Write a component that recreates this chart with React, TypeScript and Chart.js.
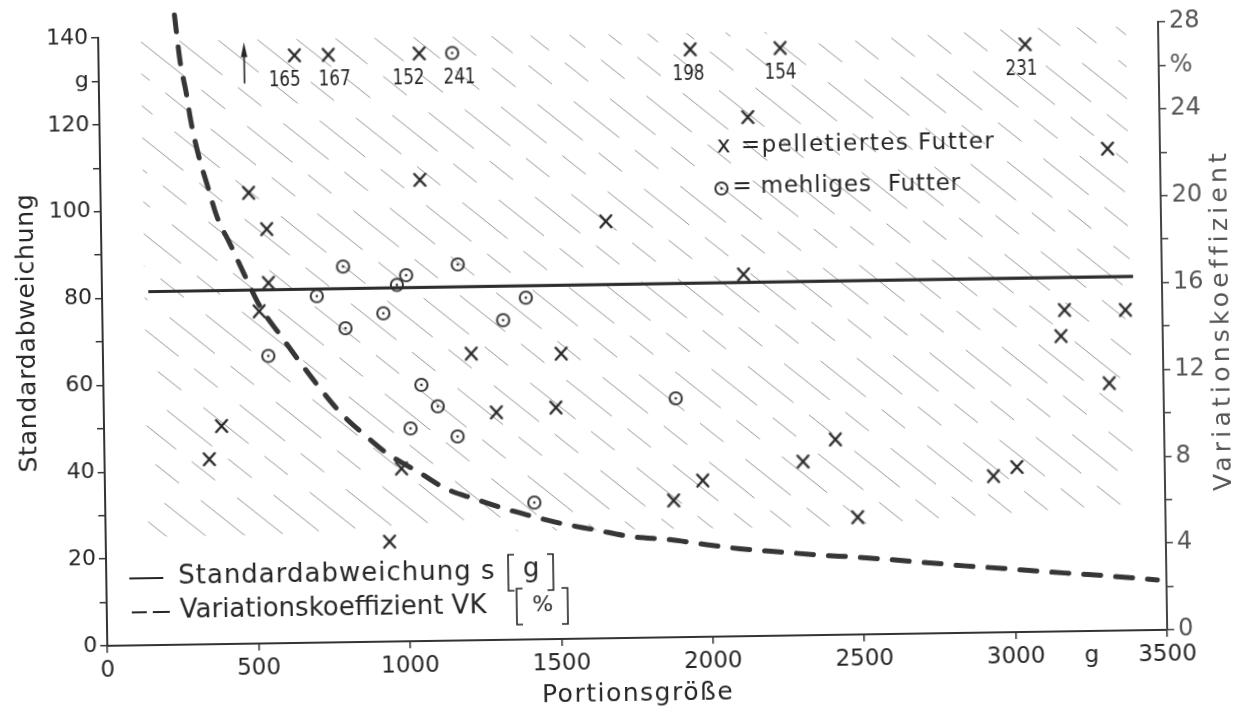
import React, { useEffect, useRef } from 'react';
import { Chart, registerables } from 'chart.js';

Chart.register(...registerables);

// ---------------- data ----------------
// pelletiertes Futter (x): Portionsgröße [g], Standardabweichung s [g]
const pelletX = [346, 388, 489, 518, 547, 550, 937, 980, 1055, 1216, 1296, 1493, 1513, 1667, 1877, 1974, 2119, 2141, 2306, 2414, 2484, 2934, 3012, 3164, 3177, 3321, 3327, 3378];
const pelletS = [42.6, 50.2, 103.8, 76.5, 95.4, 83, 23, 39.8, 106.2, 66, 52.4, 53.3, 65.7, 96, 31.5, 36, 83.3, 119.5, 40, 45, 27, 36, 38, 68, 74, 57, 111, 73.8];

// mehliges Futter (⊙)
const mealX = [546, 709, 797, 802, 928, 974, 1005, 1012, 1050, 1103, 1167, 1176, 1323, 1399, 1417, 1889];
const mealS = [66.2, 79.8, 86.5, 72.3, 75.6, 82.1, 84.3, 49, 59, 54, 47, 86.6, 73.6, 78.7, 31.5, 55];

// points beyond the scale (their s value is printed as a number)
const offPelletX = [647, 759, 1059, 1954, 2251, 3060];
const offPelletS = [165, 167, 152, 198, 154, 231];
const offMealX = [1168];
const offMealS = [241];

// Standardabweichung s [g] line
const sdX = [153, 3405];
const sdS = [81.4, 81.5];

// Variationskoeffizient VK [%]
const vkX = [253, 270, 287, 302, 326, 354, 383, 426, 471, 522, 586, 657, 721, 786, 867, 933, 1046, 1126, 1222, 1316, 1397, 1504, 1617, 1737, 1863, 1956, 2093, 2223, 2351, 2478, 2593, 2719, 2839, 2965, 3085, 3206, 3326, 3470];
const vkP = [29.0, 26.8, 25.5, 24.1, 22.5, 21.1, 19.7, 18.4, 17.0, 15.5, 14.2, 12.8, 11.6, 10.5, 9.45, 8.67, 7.7, 7.0, 6.5, 6.05, 5.72, 5.32, 5.0, 4.66, 4.5, 4.3, 4.03, 3.86, 3.69, 3.56, 3.42, 3.25, 3.08, 2.94, 2.78, 2.64, 2.5, 2.3];

// ticks
const xTickValues = [0, 500, 1000, 1500, 2000, 2500, 3000, 3250, 3500];
const xTickLabels = ['0', '500', '1000', '1500', '2000', '2500', '3000', 'g', '3500'];
const leftTickValues = [0, 10, 20, 30, 40, 50, 60, 70, 80, 90, 100, 110, 120, 130, 140];
const leftTickLabels = ['0', '', '20', '', '40', '', '60', '', '80', '', '100', '', '120', 'g', '140'];
const rightTickValues = [0, 2, 4, 6, 8, 10, 12, 14, 16, 18, 20, 22, 24, 26, 28];
const rightTickLabels = ['0', '', '4', '', '8', '', '12', '', '16', '', '20', '', '24', '%', '28'];

// decorations (data units)
const OFF_SCALE_Y = 135.3;
const ARROW_X = 481;
const ARROW_Y = [129, 138.5];
const HATCH_X = [140, 3395];
const HATCH_Y = [25, 139];

// ---------------- styling ----------------
const FONT = '"DejaVu Sans", "Liberation Sans", Arial, sans-serif';
const INK = '#262626';
const GREY = '#555555';
const offPelletLabelShift = [-10, 6, -11, -2, 0, -4];
const offMealLabelShift = [7];

function txt(ctx: any, s: string, x: number, y: number, size: number, o: any = {}) {
  ctx.save();
  ctx.font = `${o.weight || 'normal'} ${size}px ${FONT}`;
  try { ctx.letterSpacing = (o.spacing || 0) + 'px'; } catch (e) { /* ignore */ }
  ctx.fillStyle = o.color || INK;
  ctx.textAlign = o.align || 'left';
  ctx.textBaseline = 'middle';
  ctx.translate(x, y);
  if (o.rotate) ctx.rotate(o.rotate);
  if (o.maxWidth) ctx.fillText(s, 0, 0, o.maxWidth);
  else ctx.fillText(s, 0, 0);
  try { ctx.letterSpacing = '0px'; } catch (e) { /* ignore */ }
  ctx.restore();
}

function bracket(ctx: any, x: number, y: number, h: number, dir: number) {
  ctx.beginPath();
  ctx.moveTo(x + dir * 6, y - h / 2);
  ctx.lineTo(x, y - h / 2);
  ctx.lineTo(x, y + h / 2);
  ctx.lineTo(x + dir * 6, y + h / 2);
  ctx.stroke();
}

function makeX() {
  const c = document.createElement('canvas');
  c.width = 18; c.height = 18;
  const g = c.getContext('2d')!;
  g.strokeStyle = '#262626';
  g.lineWidth = 2.3;
  g.lineCap = 'round';
  g.beginPath();
  g.moveTo(3.5, 3); g.lineTo(14.5, 15);
  g.moveTo(14.5, 3); g.lineTo(3.5, 15);
  g.stroke();
  return c;
}

function makeO() {
  const c = document.createElement('canvas');
  c.width = 18; c.height = 18;
  const g = c.getContext('2d')!;
  g.strokeStyle = '#2a2a2a';
  g.lineWidth = 1.9;
  g.beginPath(); g.arc(9, 9, 6.1, 0, Math.PI * 2); g.stroke();
  g.fillStyle = '#2a2a2a';
  g.beginPath(); g.arc(9, 9, 1.3, 0, Math.PI * 2); g.fill();
  return c;
}

const hatchPlugin = {
  id: 'hatch',
  beforeDatasetsDraw(chart: any) {
    const { ctx, scales } = chart;
    const xs = scales.x, ys = scales.y;
    const left = xs.getPixelForValue(HATCH_X[0]);
    const right = xs.getPixelForValue(HATCH_X[1]);
    const top = ys.getPixelForValue(HATCH_Y[1]);
    const bottom = ys.getPixelForValue(HATCH_Y[0]);
    ctx.save();
    ctx.beginPath();
    ctx.rect(left, top, right - left, bottom - top);
    ctx.clip();
    ctx.strokeStyle = 'rgba(45,45,45,0.5)';
    ctx.lineWidth = 1;
    const slope = 0.82, gap = 32;
    const w = right - left, h = bottom - top;
    const n0 = Math.floor(-(w * slope) / gap) - 1;
    const n1 = Math.ceil(h / gap) + 1;
    for (let k = n0; k <= n1; k++) {
      ctx.setLineDash([58, 20, 30, 28]);
      ctx.lineDashOffset = ((k * 47) % 136 + 136) % 136;
      const y0 = top + k * gap;
      ctx.beginPath();
      ctx.moveTo(left, y0);
      ctx.lineTo(right, y0 + slope * w);
      ctx.stroke();
    }
    ctx.restore();
  },
};

const annotationPlugin = {
  id: 'annotations',
  afterDraw(chart: any) {
    const { ctx, chartArea: ca, scales } = chart;
    const xs = scales.x, ys = scales.y;

    // numbers under the off-scale markers
    chart.data.datasets.forEach((ds: any, i: number) => {
      if (!ds.offValues) return;
      const meta = chart.getDatasetMeta(i);
      meta.data.forEach((pt: any, j: number) => {
        const dx = ds.labelShift ? ds.labelShift[j] : 0;
        txt(ctx, String(ds.offValues[j]), pt.x + dx, pt.y + 25, 21, { align: 'center', maxWidth: 32 });
      });
    });

    // upward arrow
    const ax = xs.getPixelForValue(ARROW_X);
    const ayB = ys.getPixelForValue(ARROW_Y[0]);
    const ayT = ys.getPixelForValue(ARROW_Y[1]);
    ctx.save();
    ctx.strokeStyle = INK; ctx.fillStyle = INK; ctx.lineWidth = 1.6;
    ctx.beginPath(); ctx.moveTo(ax, ayB); ctx.lineTo(ax, ayT + 10); ctx.stroke();
    ctx.beginPath(); ctx.moveTo(ax, ayT); ctx.lineTo(ax - 3.2, ayT + 15); ctx.lineTo(ax + 3.2, ayT + 15); ctx.closePath(); ctx.fill();
    ctx.restore();

    // symbol legend (top right)
    const lx = ca.left + 617;
    txt(ctx, 'x =pelletiertes Futter', lx, ca.top + 118, 23, { spacing: 1.5 });
    const oImg = chart.data.datasets[3].pointStyle;
    ctx.drawImage(oImg, lx + 4 - 9, ca.top + 160 - 9);
    txt(ctx, '= mehliges  Futter', lx + 15, ca.top + 159, 23, { spacing: 0.8 });

    // line legend (bottom left)
    const r1 = ca.bottom - 68, r2 = ca.bottom - 34;
    ctx.save();
    ctx.strokeStyle = INK; ctx.lineWidth = 2;
    ctx.beginPath(); ctx.moveTo(ca.left + 23, r1 + 1); ctx.lineTo(ca.left + 57, r1 + 1); ctx.stroke();
    ctx.beginPath(); ctx.moveTo(ca.left + 25, r2 + 1); ctx.lineTo(ca.left + 40, r2 + 1);
    ctx.moveTo(ca.left + 46, r2 + 1); ctx.lineTo(ca.left + 63, r2 + 1); ctx.stroke();
    ctx.lineWidth = 1.6;
    bracket(ctx, ca.left + 402, r1 + 1, 36, 1);
    bracket(ctx, ca.left + 447, r1 + 1, 36, -1);
    bracket(ctx, ca.left + 410, r2 + 1, 36, 1);
    bracket(ctx, ca.left + 461, r2 + 1, 36, -1);
    ctx.restore();
    txt(ctx, 'Standardabweichung s', ca.left + 72, r1, 26, { spacing: 1.0 });
    txt(ctx, 'g', ca.left + 425, r1 - 2, 26, { align: 'center' });
    txt(ctx, 'Variationskoeffizient VK', ca.left + 73, r2, 26, { spacing: 0 });
    txt(ctx, '%', ca.left + 436, r2, 22, { align: 'center' });

    // axis titles
    txt(ctx, 'Standardabweichung', 28.5, 324, 25, { align: 'center', rotate: -Math.PI / 2, spacing: 0.8 });
    txt(ctx, 'Variationskoeffizient', 1222.5, 329, 25, { align: 'center', rotate: -Math.PI / 2, spacing: 4.2, color: GREY });
    txt(ctx, 'Portionsgröße', (ca.left + ca.right) / 2, 694, 25, { align: 'center', spacing: 1.5 });
  },
};

export default function App() {
  const ref = useRef<HTMLCanvasElement | null>(null);

  useEffect(() => {
    document.body.style.margin = '0';
    document.body.style.background = '#ffffff';
    const canvas = ref.current;
    if (!canvas) return;
    const xMark = makeX();
    const oMark = makeO();

    const chart = new Chart(canvas, {
      type: 'scatter',
      data: {
        datasets: [
          {
            label: 'Standardabweichung s [g]',
            data: sdX.map((x, i) => ({ x, y: sdS[i] })),
            showLine: true,
            borderColor: '#2c2c2c',
            borderWidth: 3.2,
            pointRadius: 0,
            yAxisID: 'y',
          },
          {
            label: 'Variationskoeffizient VK [%]',
            data: vkX.map((x, i) => ({ x, y: vkP[i] })),
            showLine: true,
            borderColor: '#363636',
            borderWidth: 5,
            borderDash: [17, 15],
            borderCapStyle: 'round',
            cubicInterpolationMode: 'monotone',
            pointRadius: 0,
            yAxisID: 'y1',
            clip: false,
          },
          {
            label: 'pelletiertes Futter',
            data: pelletX.map((x, i) => ({ x, y: pelletS[i] })),
            pointStyle: xMark,
            pointRadius: 6,
            yAxisID: 'y',
          },
          {
            label: 'mehliges Futter',
            data: mealX.map((x, i) => ({ x, y: mealS[i] })),
            pointStyle: oMark,
            pointRadius: 6,
            yAxisID: 'y',
          },
          {
            label: 'pelletiertes Futter (außerhalb)',
            data: offPelletX.map((x) => ({ x, y: OFF_SCALE_Y })),
            pointStyle: xMark,
            pointRadius: 6,
            yAxisID: 'y',
            offValues: offPelletS,
            labelShift: offPelletLabelShift,
          } as any,
          {
            label: 'mehliges Futter (außerhalb)',
            data: offMealX.map((x) => ({ x, y: OFF_SCALE_Y })),
            pointStyle: oMark,
            pointRadius: 6,
            yAxisID: 'y',
            offValues: offMealS,
            labelShift: offMealLabelShift,
          } as any,
        ],
      },
      options: {
        responsive: false,
        animation: false,
        devicePixelRatio: 1,
        events: [],
        layout: { padding: { top: 30, left: 0, right: 0, bottom: 0 } },
        plugins: { legend: { display: false }, tooltip: { enabled: false } },
        scales: {
          x: {
            type: 'linear',
            position: 'bottom',
            min: 0,
            max: 3500,
            afterBuildTicks: (s: any) => { s.ticks = xTickValues.map((v) => ({ value: v })); },
            afterFit: (s: any) => { s.height = 75; },
            ticks: {
              autoSkip: false,
              maxRotation: 0,
              padding: 4,
              color: INK,
              font: { family: FONT, size: 23 },
              callback: (_v: any, i: number) => xTickLabels[i] ?? '',
            },
            grid: {
              drawOnChartArea: false,
              drawTicks: true,
              tickLength: 7,
              lineWidth: 1.5,
              color: (c: any) => (c.tick && c.tick.value === 3250 ? 'rgba(0,0,0,0)' : '#333'),
            },
            border: { display: true, color: '#333', width: 2 },
          },
          y: {
            type: 'linear',
            position: 'left',
            min: 0,
            max: 140,
            afterBuildTicks: (s: any) => { s.ticks = leftTickValues.map((v) => ({ value: v })); },
            afterFit: (s: any) => { s.width = 103; },
            ticks: {
              autoSkip: false,
              padding: 3,
              color: INK,
              font: { family: FONT, size: 22 },
              callback: (_v: any, i: number) => leftTickLabels[i] ?? '',
            },
            grid: { drawOnChartArea: false, drawTicks: true, tickLength: 7, lineWidth: 1.5, color: '#333' },
            border: { display: true, color: '#333', width: 2 },
          },
          y1: {
            type: 'linear',
            position: 'right',
            min: 0,
            max: 28,
            afterBuildTicks: (s: any) => { s.ticks = rightTickValues.map((v) => ({ value: v })); },
            afterFit: (s: any) => { s.width = 83; },
            ticks: {
              autoSkip: false,
              padding: 4,
              color: GREY,
              font: { family: FONT, size: 24 },
              callback: (_v: any, i: number) => rightTickLabels[i] ?? '',
            },
            grid: { drawOnChartArea: false, drawTicks: true, tickLength: 7, lineWidth: 1.5, color: '#444' },
            border: { display: true, color: '#444', width: 2 },
          },
        },
      } as any,
      plugins: [hatchPlugin, annotationPlugin],
    });

    return () => chart.destroy();
  }, []);

  return (
    <div style={{ width: 1246, height: 713, overflow: 'hidden', position: 'relative', background: '#fff' }}>
      <canvas
        ref={ref}
        width={1246}
        height={713}
        style={{ display: 'block', width: 1246, height: 713, transform: 'rotate(-0.865deg)', transformOrigin: '623px 356.5px' }}
      />
    </div>
  );
}
